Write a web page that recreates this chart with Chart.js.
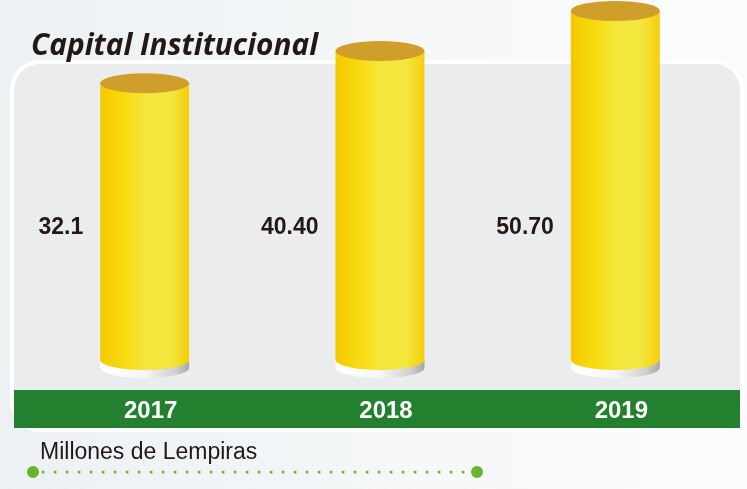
<!DOCTYPE html>
<html>
<head>
<meta charset="utf-8">
<script src="https://cdn.jsdelivr.net/npm/chart.js@4/dist/chart.umd.min.js"></script>
<style>
  html, body { margin: 0; padding: 0; background: #f3f6f7; }
  canvas { display: block; }
</style>
</head>
<body>
<canvas id="grafica" width="747" height="489"></canvas>
<script>
// datos
const years = ['2017', '2018', '2019'];
const capital = [32.1, 40.40, 50.70];
const valueLabels = ['32.1', '40.40', '50.70'];
const titulo = 'Capital Institucional';
const unidad = 'Millones de Lempiras';

// la grafica original no arranca en cero
const Y_MIN = -39;
const Y_MAX = 53.5;

function roundRect(ctx, x, y, w, h, r) {
  ctx.beginPath();
  ctx.moveTo(x + r, y);
  ctx.lineTo(x + w - r, y);
  ctx.arcTo(x + w, y, x + w, y + r, r);
  ctx.lineTo(x + w, y + h - r);
  ctx.arcTo(x + w, y + h, x + w - r, y + h, r);
  ctx.lineTo(x + r, y + h);
  ctx.arcTo(x, y + h, x, y + h - r, r);
  ctx.lineTo(x, y + r);
  ctx.arcTo(x, y, x + r, y, r);
  ctx.closePath();
}

const fondo = {
  id: 'fondo',
  beforeDraw(chart) {
    const ctx = chart.ctx;
    const W = chart.width, H = chart.height;
    ctx.save();
    let g = ctx.createLinearGradient(0, 0, W, 0);
    g.addColorStop(0, '#edf1f3');
    g.addColorStop(1, '#fbfcfd');
    ctx.fillStyle = g;
    ctx.fillRect(0, 0, W, H);

    // panel
    ctx.fillStyle = '#ffffff';
    roundRect(ctx, 10, 60, 734, 372, 30);
    ctx.fill();
    ctx.fillStyle = '#ebecee';
    roundRect(ctx, 14, 64, 726, 364, 26);
    ctx.fill();
    ctx.fillStyle = '#23802e';
    ctx.fillRect(14, 390, 726, 38);

    // titulo
    ctx.fillStyle = '#231815';
    ctx.font = 'italic 700 31px "Open Sans"';
    ctx.textAlign = 'left';
    ctx.textBaseline = 'alphabetic';
    ctx.fillText(titulo, 31, 55, 287);

    // unidad
    ctx.font = '23px "Liberation Sans", Arial';
    ctx.fillText(unidad, 40, 459);

    // linea punteada
    ctx.fillStyle = '#6ab42d';
    for (let x = 43; x < 472; x += 12) {
      ctx.fillRect(x - 1.2, 470.8, 2.6, 2.6);
    }
    ctx.beginPath();
    ctx.arc(33, 472, 6, 0, Math.PI * 2);
    ctx.arc(477, 472, 6, 0, Math.PI * 2);
    ctx.fill();
    ctx.restore();
  }
};

const cilindros = {
  id: 'cilindros',
  afterDatasetsDraw(chart) {
    const ctx = chart.ctx;
    const meta = chart.getDatasetMeta(0);
    const ry = 10;
    ctx.save();
    meta.data.forEach((bar, i) => {
      const p = bar.getProps(['x', 'y', 'base', 'width'], true);
      const l = p.x - p.width / 2, r = p.x + p.width / 2, rx = p.width / 2;

      // base blanca
      let gb = ctx.createLinearGradient(l, 0, r, 0);
      gb.addColorStop(0, '#ffffff');
      gb.addColorStop(0.5, '#f6f6f6');
      gb.addColorStop(0.85, '#cfcfcf');
      gb.addColorStop(1, '#a6a6a6');
      ctx.fillStyle = gb;
      ctx.beginPath();
      ctx.moveTo(l, p.base);
      ctx.lineTo(l, p.base + 8);
      ctx.ellipse(p.x, p.base + 8, rx, ry, 0, Math.PI, 0, true);
      ctx.lineTo(r, p.base);
      ctx.closePath();
      ctx.fill();

      // cuerpo
      let gc = ctx.createLinearGradient(l, 0, r, 0);
      gc.addColorStop(0, '#f6c800');
      gc.addColorStop(0.3, '#f8dd14');
      gc.addColorStop(0.5, '#f4e63a');
      gc.addColorStop(0.8, '#f3e63e');
      gc.addColorStop(1, '#f5cd0a');
      ctx.fillStyle = gc;
      ctx.beginPath();
      ctx.moveTo(l, p.y);
      ctx.lineTo(l, p.base);
      ctx.ellipse(p.x, p.base, rx, ry, 0, Math.PI, 0, true);
      ctx.lineTo(r, p.y);
      ctx.closePath();
      ctx.fill();

      // tapa
      ctx.fillStyle = '#d09e2a';
      ctx.beginPath();
      ctx.ellipse(p.x, p.y, rx, ry, 0, 0, Math.PI * 2);
      ctx.fill();

      // valor
      ctx.fillStyle = '#231815';
      ctx.font = 'bold 23px "Liberation Sans", Arial';
      ctx.textAlign = 'right';
      ctx.textBaseline = 'middle';
      ctx.fillText(valueLabels[i], l - 17, 228);

      // año
      ctx.fillStyle = '#ffffff';
      ctx.font = 'bold 24px "Liberation Sans", Arial';
      ctx.textAlign = 'center';
      ctx.fillText(years[i], p.x + 6, 411);
    });
    ctx.restore();
  }
};

new Chart(document.getElementById('grafica').getContext('2d'), {
  type: 'bar',
  data: {
    labels: years,
    datasets: [{
      label: titulo,
      data: capital,
      base: Y_MIN,
      backgroundColor: 'rgba(0,0,0,0)',
      borderWidth: 0,
      barPercentage: 0.378,
      categoryPercentage: 1
    }]
  },
  options: {
    responsive: false,
    animation: false,
    layout: { padding: { left: 27, right: 14, top: 0, bottom: 129 } },
    plugins: { legend: { display: false }, tooltip: { enabled: false }, title: { display: false } },
    scales: {
      x: { display: false },
      y: { display: false, min: Y_MIN, max: Y_MAX }
    }
  },
  plugins: [fondo, cilindros]
});
</script>
</body>
</html>
